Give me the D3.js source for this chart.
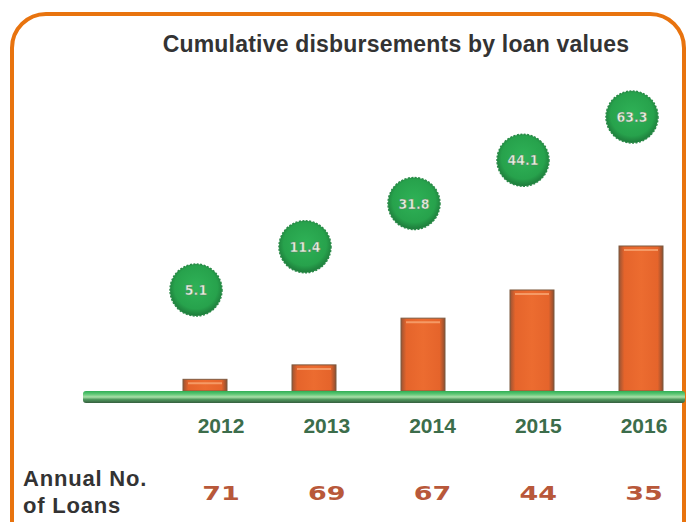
<!DOCTYPE html>
<html><head><meta charset="utf-8">
<script src="https://cdn.jsdelivr.net/npm/d3@7"></script>
<style>html,body{margin:0;padding:0;background:#fff;}</style>
</head><body>
<svg id="chart" width="686" height="522"></svg>
<script>
const years = ["2012","2013","2014","2015","2016"];
const disbursements = [5.1, 11.4, 31.8, 44.1, 63.3];
const bubbleLabels = ["5.1","11.4","31.8","44.1","63.3"];
const annualLoans = [71, 69, 67, 44, 35];

const svg = d3.select("#chart");
const defs = svg.append("defs");

const gBase = defs.append("linearGradient").attr("id","base").attr("x1",0).attr("y1",0).attr("x2",0).attr("y2",1);
[["0%","#2fae55"],["25%","#5cc673"],["50%","#a8e0a8"],["70%","#4f9a5e"],["100%","#355e3e"]]
  .forEach(([o,c])=>gBase.append("stop").attr("offset",o).attr("stop-color",c));

const gBar = defs.append("linearGradient").attr("id","bar").attr("x1",0).attr("y1",0).attr("x2",1).attr("y2",0);
[["0%","#9a5434"],["12%","#e5642b"],["50%","#ec6c30"],["88%","#e5642b"],["100%","#8c4e30"]]
  .forEach(([o,c])=>gBar.append("stop").attr("offset",o).attr("stop-color",c));

const gBub = defs.append("radialGradient").attr("id","bub").attr("cx","50%").attr("cy","45%").attr("r","55%");
[["0%","#2fb257"],["75%","#27a24c"],["100%","#1d7a3a"]]
  .forEach(([o,c])=>gBub.append("stop").attr("offset",o).attr("stop-color",c));

// frame
svg.append("rect").attr("x",12).attr("y",14).attr("width",672).attr("height",560)
  .attr("rx",34).attr("ry",34).attr("fill","none").attr("stroke","#e8730e").attr("stroke-width",4);

// title
svg.append("text").attr("x",396).attr("y",52).attr("text-anchor","middle")
  .attr("font-family","Liberation Sans, Arial, sans-serif").attr("font-weight","bold")
  .attr("font-size",23).attr("fill","#333").attr("letter-spacing",0.2)
  .text("Cumulative disbursements by loan values");

const x = d3.scalePoint().domain(years).range([205, 641]);
const xl = d3.scalePoint().domain(years).range([221, 644]);
const y = d3.scaleLinear().domain([0, 63.3]).range([391, 246]);
const by = d3.scaleLinear().domain([0, years.length-1]).range([290, 117]);
const barW = 44;

// bars
svg.append("g").selectAll("rect").data(years).join("rect")
  .attr("x", d => x(d) - barW/2)
  .attr("y", (d,i) => y(disbursements[i]))
  .attr("width", barW)
  .attr("height", (d,i) => y(0) - y(disbursements[i]))
  .attr("fill","url(#bar)").attr("stroke","#7d5a40").attr("stroke-width",1);
svg.append("g").selectAll("line").data(years).join("line")
  .attr("x1", d => x(d) - barW/2 + 5).attr("x2", d => x(d) + barW/2 - 5)
  .attr("y1", (d,i) => y(disbursements[i]) + 4).attr("y2", (d,i) => y(disbursements[i]) + 4)
  .attr("stroke","#f59a66").attr("stroke-width",2);

// baseline
svg.append("rect").attr("x",83).attr("y",y(0)).attr("width",602).attr("height",12)
  .attr("rx",3).attr("fill","url(#base)");

// bubbles
const bub = svg.append("g").selectAll("g").data(years).join("g")
  .attr("transform",(d,i)=>`translate(${x(d)-9},${by(i)})`);
bub.append("circle").attr("r",26).attr("fill","url(#bub)").attr("stroke","#2a8a48").attr("stroke-width",1.5).attr("stroke-dasharray","2,1.5");
bub.append("text").attr("text-anchor","middle").attr("dy","0.36em")
  .attr("font-family","DejaVu Sans Condensed, DejaVu Sans, sans-serif").attr("font-weight","bold")
  .attr("font-size",14).attr("fill","#e6f2e0").attr("stroke","#5f7a62").attr("stroke-width",0.4)
  .text((d,i)=>bubbleLabels[i]);

// year labels
svg.append("g").selectAll("text").data(years).join("text")
  .attr("x", d => xl(d)).attr("y", 433).attr("text-anchor","middle")
  .attr("font-family","Liberation Sans, Arial, sans-serif").attr("font-weight","bold")
  .attr("font-size",21).attr("fill","#3c6d4b").text(d=>d);

// row label
const rl = svg.append("text").attr("font-family","Liberation Sans, Arial, sans-serif")
  .attr("font-weight","bold").attr("font-size",22).attr("fill","#333").attr("letter-spacing",0.8);
rl.append("tspan").attr("x",23).attr("y",486).text("Annual No.");
rl.append("tspan").attr("x",23).attr("y",513).text("of Loans");

// loan counts
svg.append("g").selectAll("text").data(years).join("text")
  .attr("transform", d => `translate(${xl(d)},500) scale(1.35,1)`)
  .attr("text-anchor","middle")
  .attr("font-family","DejaVu Sans, sans-serif").attr("font-weight","bold")
  .attr("font-size",20).attr("fill","#b8583a").text((d,i)=>annualLoans[i]);
</script>
</body></html>
